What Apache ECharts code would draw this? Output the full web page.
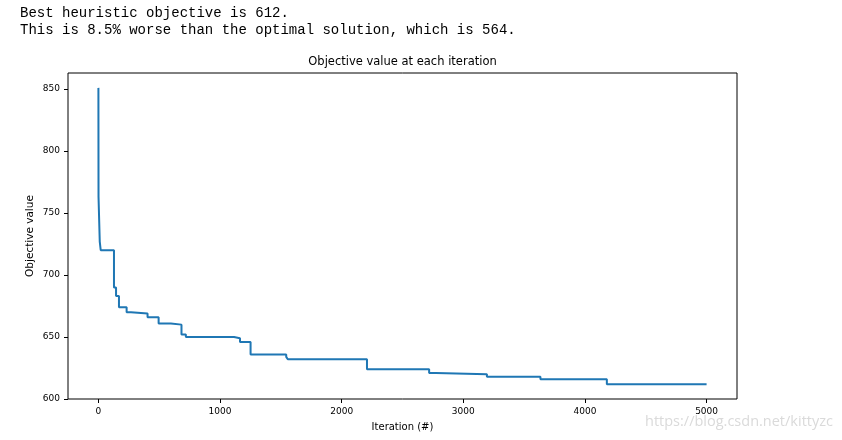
<!DOCTYPE html>
<html>
<head>
<meta charset="utf-8">
<script src="https://cdn.jsdelivr.net/npm/echarts@6/dist/echarts.min.js"></script>
<style>html,body{margin:0;padding:0;background:#fff;}#c{width:842px;height:440px;}</style>
</head>
<body>
<div id="c"></div>
<script>
// Iteration at which each new best objective starts, and that objective
const iterations = [0, 1, 11, 19, 128, 145, 169, 232, 268, 404, 495, 596, 683, 719, 1115, 1164, 1251, 1544, 1557, 2208, 2719, 2774, 3194, 3634, 4180, 5000];
const objectiveValues = [851, 763, 727, 720, 690, 683, 674, 670, 669, 666, 661, 660, 652, 650, 649, 646, 636, 634, 632, 624, 621, 620, 618, 616, 612, 612];
const xTicks = [0, 1000, 2000, 3000, 4000, 5000];
const yTicks = [600, 650, 700, 750, 800, 850];
const headerLines = ["Best heuristic objective is 612.", "This is 8.5% worse than the optimal solution, which is 564."];
const chartTitle = "Objective value at each iteration";
const xName = "Iteration (#)";
const yName = "Objective value";
const watermark = "https://blog.csdn.net/kittyzc";

const chart = echarts.init(document.getElementById('c'), null, {renderer: 'canvas'});
const data = iterations.map((it, i) => [it, objectiveValues[i]]);
const font = 'DejaVu Sans';
chart.setOption({
  animation: false,
  backgroundColor: '#fff',
  grid: {left: 68, right: 105, top: 73, bottom: 41, show: true, borderColor: '#000', borderWidth: 1, backgroundColor: 'transparent'},
  graphic: [
    {type: 'text', left: 20, top: 5, style: {text: headerLines.join('\n'), font: '14px "Liberation Mono"', fill: '#000', lineHeight: 17}},
    {type: 'text', x: 402.5, y: 62, style: {text: chartTitle, font: '11.5px "DejaVu Sans"', fill: '#000', align: 'center', verticalAlign: 'middle'}},
    {type: 'text', x: 739, y: 422, style: {text: watermark, font: '14.5px "Open Sans"', fill: '#dadada', align: 'center', verticalAlign: 'middle'}}
  ],
  xAxis: {
    type: 'value', min: -250, max: 5250,
    name: xName, nameLocation: 'middle', nameGap: 23, nameMoveOverlap: false,
    nameTextStyle: {fontFamily: font, fontSize: 10, color: '#000'},
    axisLine: {show: false, onZero: false},
    axisTick: {show: true, customValues: xTicks, length: 4, lineStyle: {color: '#000'}},
    axisLabel: {customValues: xTicks, margin: 8, fontFamily: font, fontSize: 9, color: '#000', formatter: v => String(v)},
    splitLine: {show: false}
  },
  yAxis: {
    type: 'value', min: 600, max: 863,
    name: yName, nameLocation: 'middle', nameGap: 32, nameRotate: 90, nameMoveOverlap: false,
    nameTextStyle: {fontFamily: font, fontSize: 10.5, color: '#000'},
    axisLine: {show: false, onZero: false},
    axisTick: {show: true, customValues: yTicks, length: 4, lineStyle: {color: '#000'}},
    axisLabel: {customValues: yTicks, margin: 8, fontFamily: font, fontSize: 9, color: '#000', formatter: v => String(v)},
    splitLine: {show: false}
  },
  series: [{
    type: 'line', step: 'end', data: data, showSymbol: false,
    lineStyle: {color: '#1f77b4', width: 2}, itemStyle: {color: '#1f77b4'}
  }]
});
</script>
</body>
</html>
